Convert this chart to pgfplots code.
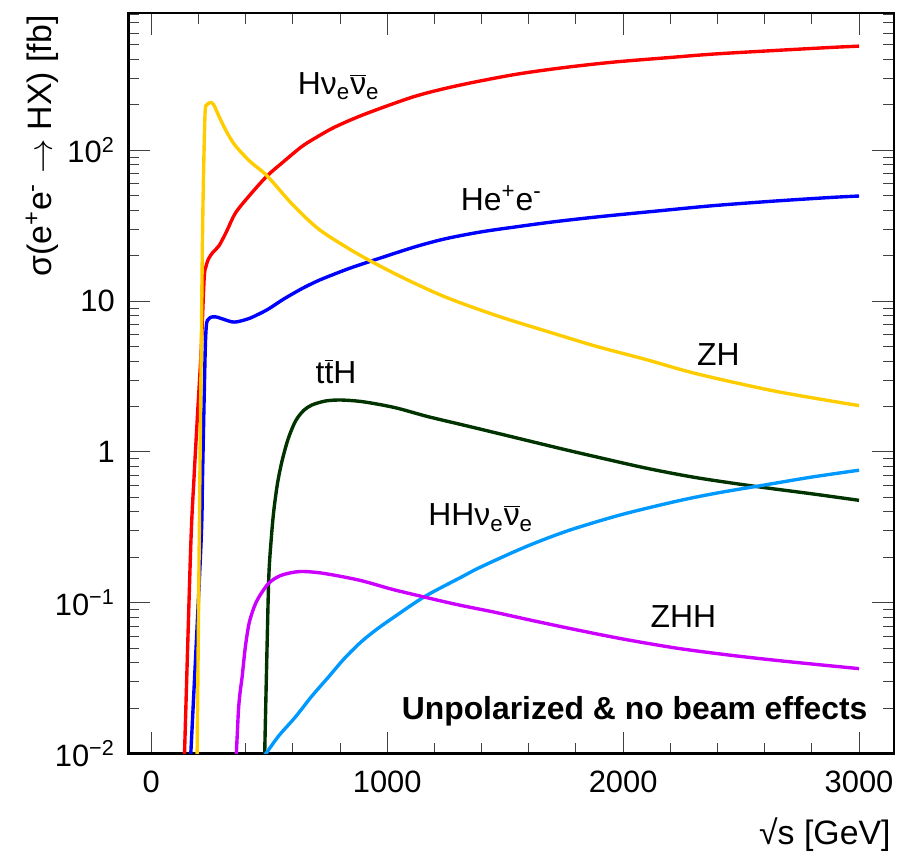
\documentclass[border=0pt]{standalone}
\usepackage{fontspec}
\setmainfont{Liberation Sans}
\usepackage{pgfplots}
\usepackage{pgfplotstable}
\pgfplotsset{compat=1.18}

\definecolor{zhgold}{RGB}{255,204,0}
\definecolor{tthgreen}{RGB}{0,51,0}
\definecolor{hhblue}{RGB}{0,153,255}
\definecolor{zhhviolet}{RGB}{204,0,255}

\newcommand{\nubar}{$\overline{\mbox{ν}}$}

% sqrt(s) [GeV]   sigma [fb]
\pgfplotstableread{
x y
140 0.009
167 0.232
181 0.67
196 1.78
211 4.6
224 14.1
232 17.0
242 19.0
260 21.0
287 23.3
320 29.2
357 38.5
420 51
491 67.7
560 84
638 106
700 122
779 143
906 174
1117 228
1300 269
1539 318
1750 354
1961 385
2200 413
2383 435
2650 460
2889 482
3000 491
}\hnn

\pgfplotstableread{
x y
166 0.009
210 0.232
217 0.67
224 2.27
229 5.0
233 6.8
238 7.47
250 7.8
273 7.87
310 7.55
340 7.3
364 7.3
413 7.66
455 8.2
498 8.9
560 10.3
638 12.1
695 13.4
737 14.3
835 16.4
934 18.5
1117 22.9
1250 26.0
1398 28.8
1539 31.0
1700 33.5
1890 36.2
2150 39.7
2383 43.0
2650 46.2
2889 48.8
3000 49.8
}\hee

\pgfplotstableread{
x y
194 0.009
207 1.0
212 5.2
216.5 23
221 64
228 178
235 200
240 204
251 208
265 200
287 168
320 132
357 107
420 84
491 67.7
600 43.5
709 30.1
835 22.4
934 18.3
1075 14.1
1250 10.6
1468 7.98
1700 6.15
1890 5.0
2100 4.09
2312 3.30
2650 2.52
3000 2.03
}\zh

\pgfplotstableread{
x y
480 0.009
489 0.039
498 0.147
508 0.26
519 0.405
535 0.62
554 0.869
580 1.22
611 1.60
645 1.88
681 2.05
740 2.18
807 2.21
900 2.15
1032 1.97
1170 1.72
1314 1.52
1468 1.33
1595 1.19
1750 1.04
1890 0.925
2100 0.78
2312 0.675
2565 0.590
2800 0.528
3000 0.478
}\tth

\pgfplotstableread{
x y
482 0.0098
540 0.0131
611 0.0175
680 0.0240
751 0.0322
820 0.0430
892 0.0555
960 0.0675
1032 0.0810
1159 0.110
1314 0.148
1384 0.169
1500 0.205
1595 0.238
1700 0.276
1806 0.315
2000 0.387
2228 0.472
2400 0.535
2594 0.602
2800 0.682
3000 0.757
}\hhnn

\pgfplotstableread{
x y
359 0.009
364 0.013
370 0.020
377 0.026
385 0.0322
398 0.050
414 0.0725
435 0.093
456 0.109
498 0.135
550 0.152
624 0.161
700 0.159
780 0.152
892 0.140
1020 0.123
1159 0.109
1300 0.097
1454 0.0867
1620 0.076
1806 0.0660
2000 0.0575
2228 0.0500
2450 0.0450
2650 0.0415
2820 0.0390
3000 0.0366
}\zhh

\begin{document}
\begin{tikzpicture}
\begin{axis}[
  scale only axis,
  width=384.5pt, height=372pt,
  ymode=log,
  xmin=-97, xmax=3148,
  ymin=0.01, ymax=815,
  xtick={0,1000,2000,3000},
  xticklabels={0,1000,2000,3000},
  minor xtick={200,400,600,800,1200,1400,1600,1800,2200,2400,2600,2800},
  ytick={0.01,0.1,1,10,100},
  yticklabels={10\textsuperscript{−2},10\textsuperscript{−1},1,10,10\textsuperscript{2}},
  minor ytick={0.02,0.03,0.04,0.05,0.06,0.07,0.08,0.09,
               0.2,0.3,0.4,0.5,0.6,0.7,0.8,0.9,
               2,3,4,5,6,7,8,9,
               20,30,40,50,60,70,80,90,
               200,300,400,500,600,700,800},
  tick pos=both,
  tick align=inside,
  major tick length=11pt,
  minor tick length=5.5pt,
  every tick/.style={black!75, line width=0.5pt},
  axis line style={line width=1.2pt},
  tick label style={font=\fontsize{15.5}{18}\selectfont},
  xticklabel style={yshift=-5.3pt},
  yticklabel style={xshift=-3.3pt},
  label style={font=\fontsize{17}{20}\selectfont},
  xlabel={√s [GeV]},
  ylabel={σ(e\textsuperscript{+}e\textsuperscript{-} $\rightarrow$ HX) [fb]},
  xlabel style={at={(rel axis cs:0.9961,-0.1223)}, anchor=base east, inner sep=0pt},
  ylabel style={at={(rel axis cs:-0.1001,0.9973)}, anchor=base east, inner sep=0pt},
  clip mode=individual,
  every axis plot/.append style={line width=1.7pt, line join=round, smooth, tension=0.5},
]
\addplot[red] table {\hnn};
\addplot[blue] table {\hee};
\addplot[zhgold] table {\zh};
\addplot[tthgreen] table {\tth};
\addplot[hhblue] table {\hhnn};
\addplot[zhhviolet] table {\zhh};

\begin{scope}[every node/.style={inner sep=0pt, font=\fontsize{16}{19}\selectfont}]
\node[anchor=base west] at (axis cs:620,234) {Hν\textsubscript{e}\nubar\textsubscript{e}};
\node[anchor=base west] at (axis cs:1311,39.8) {He\textsuperscript{+}e\textsuperscript{-}};
\node[anchor=base west] at (axis cs:2312,3.77) {ZH};
\node[anchor=base west] at (axis cs:695,2.85) {t$\overline{\mbox{t}}$H};
\node[anchor=base west] at (axis cs:1173,0.323) {HHν\textsubscript{e}\nubar\textsubscript{e}};
\node[anchor=base west] at (axis cs:2115,0.0689) {ZHH};
\node[anchor=base east, font=\bfseries\fontsize{16}{19}\selectfont] at (rel axis cs:0.9658,0.0461) {Unpolarized \& no beam effects};
\end{scope}
\end{axis}
\path ([shift={(-64.5pt,-51pt)}]current axis.south west) rectangle ([shift={(1pt,6.5pt)}]current axis.north east);
\end{tikzpicture}
\end{document}
